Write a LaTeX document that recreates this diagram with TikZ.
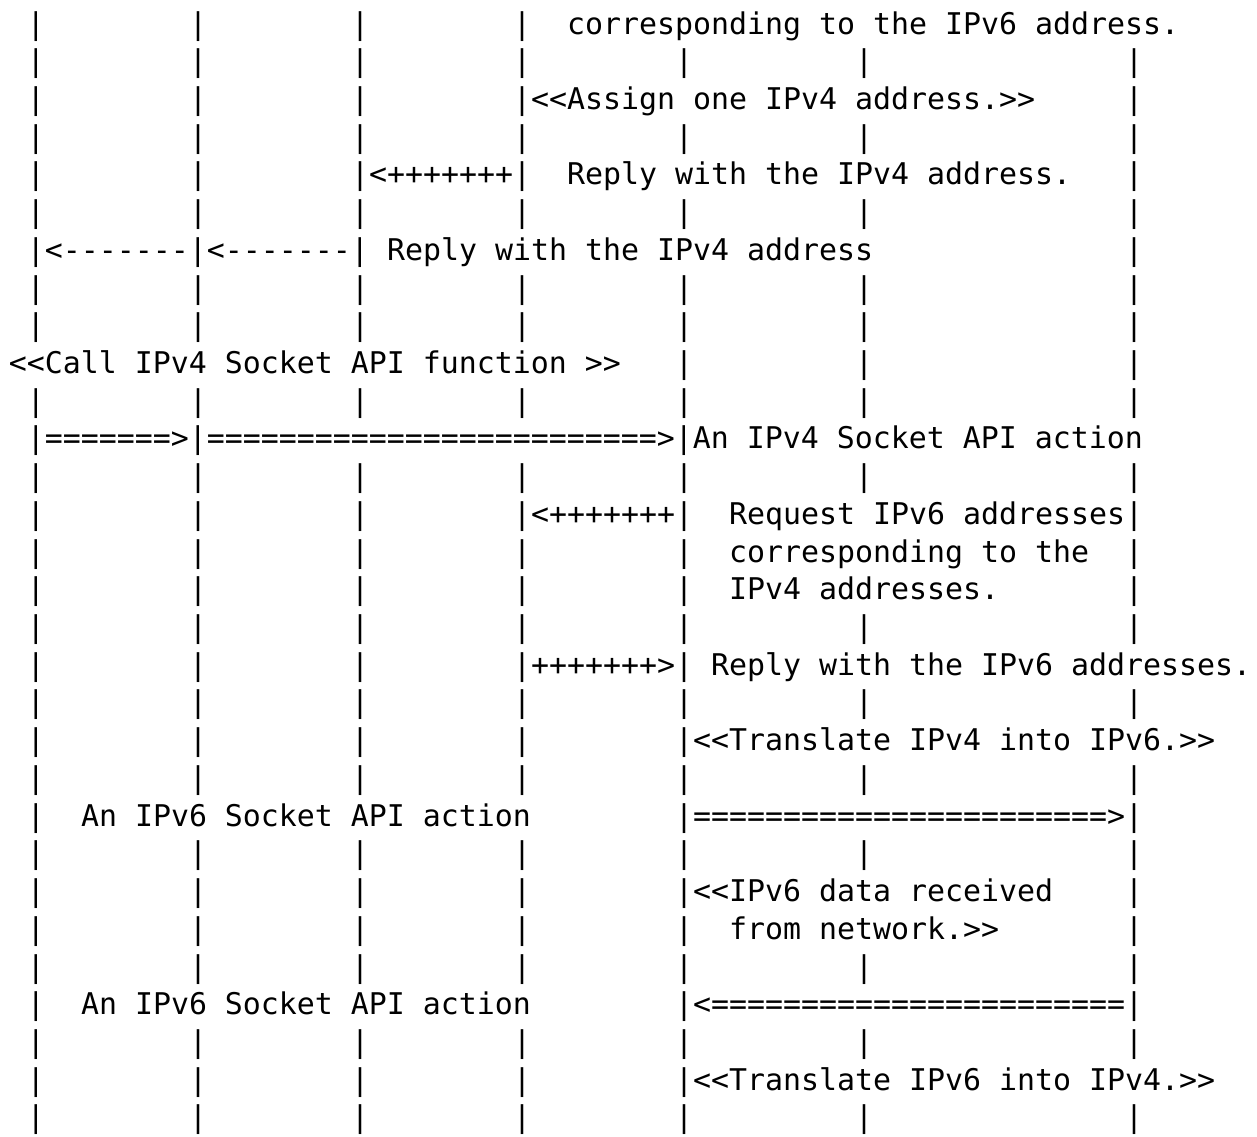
\documentclass[tikz,border=0pt]{standalone}
\usepackage{fontspec}
\setmonofont{DejaVu Sans Mono}
\tikzset{
  txt/.style={anchor=base west, inner sep=0pt, outer sep=0pt,
    font=\ttfamily\fontsize{29.9}{36}\selectfont, text=black}
}
% row r, column c, text
\newcommand\asciiseg[3]{\node[txt] (n-#1-#2) at ({9pt+18pt*#2}, {-34pt-37.72pt*#1}) {#3};}
\newcommand\asciibars[2]{\foreach \cc in {#2}{\asciiseg{#1}{\cc}{|}}}
\begin{document}
\begin{tikzpicture}
\useasboundingbox (0pt,0pt) rectangle (1257pt,-1136pt);
\fill[white] (0pt,0pt) rectangle (1257pt,-1136pt);
% row 0
\asciibars{0}{1,10,19,28}
\asciiseg{0}{31}{corresponding to the IPv6 address.}
\asciibars{1}{1,10,19,28,37,47,62}
% row 2
\asciibars{2}{1,10,19,62}
\asciiseg{2}{28}{|<<Assign one IPv4 address.>>}
\asciibars{3}{1,10,19,28,37,47,62}
% row 4
\asciibars{4}{1,10,62}
\asciiseg{4}{19}{|<+++++++|}
\asciiseg{4}{31}{Reply with the IPv4 address.}
\asciibars{5}{1,10,19,28,37,47,62}
% row 6
\asciiseg{6}{1}{|<-------|<-------|}
\asciiseg{6}{21}{Reply with the IPv4 address}
\asciibars{6}{62}
\asciibars{7}{1,10,19,28,37,47,62}
\asciibars{8}{1,10,19,28,37,47,62}
% row 9
\asciiseg{9}{0}{<<Call IPv4 Socket API function >>}
\asciibars{9}{37,47,62}
\asciibars{10}{1,10,19,28,37,47,62}
% row 11
\asciiseg{11}{1}{|=======>|=========================>|An IPv4 Socket API action}
\asciibars{12}{1,10,19,28,37,47,62}
% row 13
\asciibars{13}{1,10,19}
\asciiseg{13}{28}{|<+++++++|}
\asciiseg{13}{40}{Request IPv6 addresses|}
% rows 14-15
\asciibars{14}{1,10,19,28,37,62}
\asciiseg{14}{40}{corresponding to the}
\asciibars{15}{1,10,19,28,37,62}
\asciiseg{15}{40}{IPv4 addresses.}
\asciibars{16}{1,10,19,28,37,47,62}
% row 17
\asciibars{17}{1,10,19}
\asciiseg{17}{28}{|+++++++>|}
\asciiseg{17}{39}{Reply with the IPv6 addresses.}
\asciibars{18}{1,10,19,28,37,47,62}
% row 19
\asciibars{19}{1,10,19,28}
\asciiseg{19}{37}{|<<Translate IPv4 into IPv6.>>}
\asciibars{20}{1,10,19,28,37,47,62}
% row 21
\asciibars{21}{1}
\asciiseg{21}{4}{An IPv6 Socket API action}
\asciiseg{21}{37}{|=======================>|}
\asciibars{22}{1,10,19,28,37,47,62}
% rows 23-24
\asciibars{23}{1,10,19,28,62}
\asciiseg{23}{37}{|<<IPv6 data received}
\asciibars{24}{1,10,19,28,37,62}
\asciiseg{24}{40}{from network.>>}
\asciibars{25}{1,10,19,28,37,47,62}
% row 26
\asciibars{26}{1}
\asciiseg{26}{4}{An IPv6 Socket API action}
\asciiseg{26}{37}{|<=======================|}
\asciibars{27}{1,10,19,28,37,47,62}
% row 28
\asciibars{28}{1,10,19,28}
\asciiseg{28}{37}{|<<Translate IPv6 into IPv4.>>}
\asciibars{29}{1,10,19,28,37,47,62}
\end{tikzpicture}
\end{document}
